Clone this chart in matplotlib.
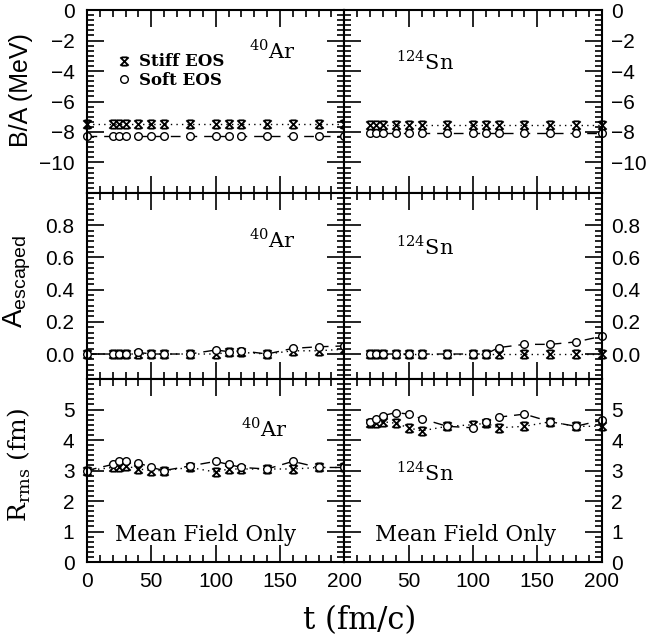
import numpy as np
import matplotlib.pyplot as plt
from matplotlib.path import Path
from matplotlib.ticker import MultipleLocator, AutoMinorLocator

# time grids (fm/c)
t_ar = [0, 20, 25, 30, 40, 50, 60, 80, 100, 110, 120, 140, 160, 180, 200]
t_sn = [20, 25, 30, 40, 50, 60, 80, 100, 110, 120, 140, 160, 180, 200]

# binding energy per nucleon (MeV)
ba_ar_stiff = [-7.5] * 15
ba_ar_soft = [-8.25] * 15
ba_sn_stiff = [-7.55] * 14
ba_sn_soft = [-8.05] * 14

# escaped fraction
esc_ar_stiff = [0.0, 0.0, 0.0, 0.0, 0.0, 0.0, 0.0, 0.0, 0.0, 0.01, 0.01, 0.0, 0.02, 0.02, 0.03]
esc_ar_soft = [0.0, 0.0, 0.0, 0.0, 0.01, 0.0, 0.0, 0.0, 0.025, 0.015, 0.02, 0.0, 0.035, 0.045, 0.05]
esc_sn_stiff = [0.0] * 14
esc_sn_soft = [0.0, 0.0, 0.0, 0.0, 0.0, 0.0, 0.0, 0.0, 0.0, 0.04, 0.06, 0.06, 0.075, 0.11]

# rms radius (fm)
r_ar_stiff = [3.0, 3.1, 3.1, 3.15, 3.05, 3.0, 3.0, 3.1, 2.95, 3.05, 3.05, 3.05, 3.05, 3.1, 3.1]
r_ar_soft = [3.0, 3.2, 3.3, 3.3, 3.25, 3.1, 3.0, 3.15, 3.3, 3.2, 3.1, 3.05, 3.3, 3.1, 3.1]
r_sn_stiff = [4.55, 4.55, 4.6, 4.55, 4.4, 4.3, 4.45, 4.5, 4.55, 4.4, 4.45, 4.6, 4.45, 4.45]
r_sn_soft = [4.6, 4.7, 4.8, 4.9, 4.85, 4.7, 4.45, 4.4, 4.6, 4.75, 4.85, 4.6, 4.45, 4.65]

# y tick labels for each row
ticks_ba = [0, -2, -4, -6, -8, -10]
ticks_esc = [0.0, 0.2, 0.4, 0.6, 0.8]
ticks_r = [0, 1, 2, 3, 4, 5]

# hourglass-like cross used for the stiff EOS
stiff_marker = Path(
    [(-1, -1), (1, 1), (-1, 1), (1, -1), (-0.7, 1), (0.7, 1), (-0.7, -1), (0.7, -1)],
    [Path.MOVETO, Path.LINETO] * 4,
)

serif = "DejaVu Serif"
sans = "Liberation Sans"
plt.rcParams["font.family"] = sans

fig = plt.figure(figsize=(6.54, 6.42), dpi=100)
left, width = 0.133, 0.3935
rows = [(0.6994, 0.285), (0.4097, 0.2897), (0.1246, 0.285)]

ylims = [(-12, 0), (-0.155, 1.0), (0, 6)]
yticks = [ticks_ba, ticks_esc, ticks_r]
ylabels = ["B/A (MeV)", r"A$_{\mathregular{escaped}}$", r"R$_{\mathregular{rms}}$ (fm)"]
yfonts = [sans, sans, serif]
ysizes = [18, 20, 18]
ylab_y = [0.563, 0.527, 0.53]
data = [
    (ba_ar_stiff, ba_ar_soft, ba_sn_stiff, ba_sn_soft),
    (esc_ar_stiff, esc_ar_soft, esc_sn_stiff, esc_sn_soft),
    (r_ar_stiff, r_ar_soft, r_sn_stiff, r_sn_soft),
]
ar_pos = [(0.63, 0.78), (0.63, 0.75), (0.60, 0.73)]
sn_pos = [(0.20, 0.72), (0.20, 0.71), (0.20, 0.49)]

for i, (y0, h) in enumerate(rows):
    axl = fig.add_axes([left, y0, width, h])
    axr = fig.add_axes([left + width, y0, width, h])
    a_st, a_so, s_st, s_so = data[i]
    for ax, t, st, so in [(axl, t_ar, a_st, a_so), (axr, t_sn, s_st, s_so)]:
        ax.plot(t, st, linestyle=(0, (1, 3)), color="black", lw=1.0,
                marker=stiff_marker, ms=6, mew=1.3, mfc="none", mec="black", clip_on=False)
        ax.plot(t, so, linestyle=(0, (7, 5)), color="black", lw=1.0,
                marker="o", ms=5.5, mew=1.0, mfc="white", mec="black", clip_on=False)
        ax.set_xlim(0, 200)
        ax.set_ylim(*ylims[i])
        ax.xaxis.set_major_locator(MultipleLocator(50))
        ax.xaxis.set_minor_locator(MultipleLocator(10))
        ax.set_yticks(yticks[i])
        if i == 1:
            ax.set_yticklabels(["%.1f" % v for v in yticks[i]])
        else:
            ax.set_yticklabels([("%d" % v).replace("-", "\u2212") for v in yticks[i]])
        ax.yaxis.set_minor_locator(AutoMinorLocator(6))
        ax.tick_params(which="both", direction="in", top=True, bottom=True,
                       left=True, right=True, width=1.2, labelsize=15)
        ax.tick_params(which="major", length=12)
        ax.tick_params(which="minor", length=5)
        ax.tick_params(axis="y", pad=9)
        ax.tick_params(axis="x", pad=7)
        for s in ax.spines.values():
            s.set_linewidth(1.5)
        if i < 2:
            ax.tick_params(labelbottom=False)
        else:
            ax.text(0.46 if ax is axl else 0.47, 0.15, "Mean Field Only",
                    transform=ax.transAxes, ha="center", va="center",
                    fontsize=15.5, family=serif)
    axr.tick_params(labelleft=False, labelright=True)
    axr.tick_params(axis="y", pad=7)
    if i == 2:
        axr.set_xticks([50, 100, 150, 200])
    axl.set_ylabel(ylabels[i], fontsize=ysizes[i], family=yfonts[i])
    axl.yaxis.set_label_coords(-0.21, ylab_y[i])
    axl.text(*ar_pos[i], r"$^{\mathregular{40}}$Ar", transform=axl.transAxes, fontsize=15,
             family=serif, va="center")
    axr.text(*sn_pos[i], r"$^{\mathregular{124}}$Sn", transform=axr.transAxes, fontsize=15,
             family=serif, va="center")
    if i == 0:
        axl.plot([], [], ls="none", marker=stiff_marker, ms=6, mew=1.3,
                 mfc="none", mec="black", label="Stiff EOS")
        axl.plot([], [], ls="none", marker="o", ms=5.5, mew=1.0,
                 mfc="white", mec="black", label="Soft EOS")
        axl.legend(loc="upper left", bbox_to_anchor=(0.06, 0.845), frameon=False,
                   handlelength=0.8, handletextpad=0.5, labelspacing=0.1,
                   prop={"family": serif, "size": 12, "weight": "bold"})

fig.text(0.55, 0.034, "t (fm/c)", ha="center", va="center", fontsize=22, family=serif)

fig.savefig("out.png", dpi=100)
